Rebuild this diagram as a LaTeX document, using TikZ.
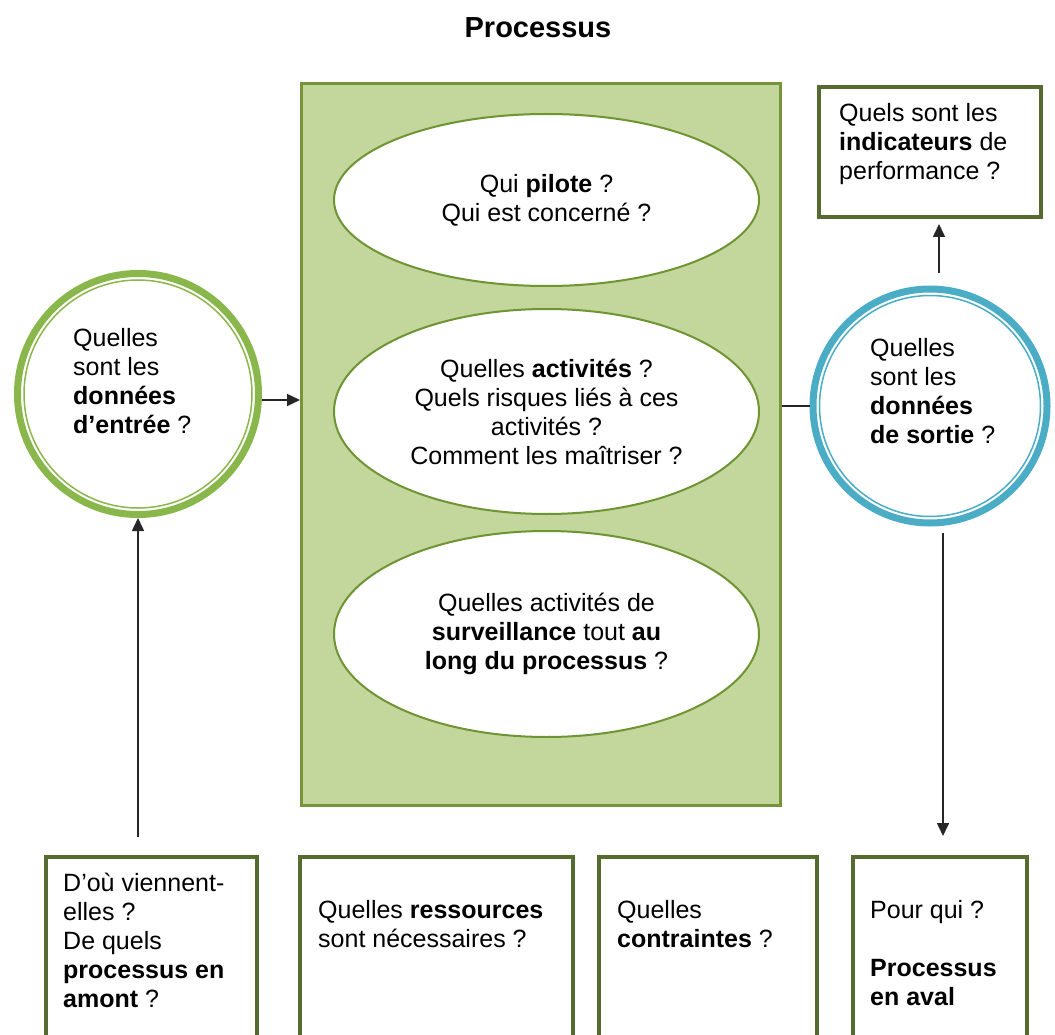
\documentclass[tikz,border=0pt]{standalone}
\usepackage{fontspec}
\setmainfont{Liberation Sans}
\usetikzlibrary{arrows.meta,shapes.geometric}

\definecolor{procfill}{HTML}{C3D69B}
\definecolor{procline}{HTML}{77933C}
\definecolor{ellline}{HTML}{6E9433}
\definecolor{ringgreen}{HTML}{8AB74B}
\definecolor{ringblue}{HTML}{4BACC6}
\definecolor{boxline}{HTML}{566B30}
\definecolor{arrowgray}{HTML}{262626}

\begin{document}
\begin{tikzpicture}[
    x=1pt, y=-1pt,
    inner sep=0pt,
    font=\fontsize{25}{29}\selectfont,
    procbox/.style={draw=procline, fill=procfill, line width=3pt,
      minimum width=479pt, minimum height=722pt},
    question/.style={ellipse, draw=ellline, fill=white, line width=2pt,
      minimum width=425pt, align=center},
    ring/.style={circle, draw=#1, line width=7pt},
    innerring/.style={circle, draw=#1, line width=1.5pt},
    qbox/.style={draw=boxline, fill=white, line width=4pt, anchor=north west},
    qtext/.style={anchor=north west, align=left},
    arrow/.style={draw=arrowgray, line width=1.6pt,
      -{Triangle[length=13pt,width=12pt]}}
  ]
  \useasboundingbox (0,0) rectangle (1055,1035);

  \node (title) at (538,28) {\fontsize{29}{34}\selectfont\bfseries Processus};

  \node (proc) [procbox] at (541,444.5) {};
  \node (pilot) [question, minimum height=172pt] at (546.5,200)
    {Qui \textbf{pilote} ?\\Qui est concerné ?};
  \node (activ) [question, minimum height=205pt] at (546.5,411.5)
    {Quelles \textbf{activités} ?\\Quels risques liés à ces\\activités ?\\Comment les maîtriser ?};
  \node (surv) [question, minimum height=206pt] at (546.5,634)
    {Quelles activités de\\\textbf{surveillance} tout \textbf{au}\\\textbf{long du processus} ?};

  \node (input) [ring=ringgreen, minimum size=241pt] at (138,394) {};
  \node (inputin) [innerring=ringgreen, minimum size=228pt] at (input) {};
  \node (inputtxt) [qtext] at (73,328)
    {Quelles\\sont les\\\textbf{données}\\\textbf{d’entrée} ?};

  \node (output) [ring=ringblue, minimum size=234pt] at (930,406) {};
  \node (outputin) [innerring=ringblue, minimum size=221pt] at (output) {};
  \node (outputtxt) [qtext] at (870,338)
    {Quelles\\sont les\\\textbf{données}\\\textbf{de sortie} ?};

  \node (indic) [qbox, minimum width=222pt, minimum height=130pt] at (817,85) {};
  \node (indictxt) [qtext] at ([shift={(22,18)}]indic.north west)
    {Quels sont les\\\textbf{indicateurs} de\\performance ?};

  \node (upstream) [qbox, minimum width=211pt, minimum height=220pt] at (44,855) {};
  \node (upstreamtxt) [qtext] at ([shift={(19,18)}]upstream.north west)
    {D’où viennent-\\elles ?\\De quels\\\textbf{processus en}\\\textbf{amont} ?};

  \node (resources) [qbox, minimum width=273pt, minimum height=220pt] at (298,855) {};
  \node (resourcestxt) [qtext] at ([shift={(20,45)}]resources.north west)
    {Quelles \textbf{ressources}\\sont nécessaires ?};

  \node (constraints) [qbox, minimum width=218pt, minimum height=220pt] at (597,855) {};
  \node (constraintstxt) [qtext] at ([shift={(20,45)}]constraints.north west)
    {Quelles\\\textbf{contraintes} ?};

  \node (downstream) [qbox, minimum width=174pt, minimum height=220pt] at (851,855) {};
  \node (downstreamtxt) [qtext] at ([shift={(19,45)}]downstream.north west)
    {Pour qui ?\\[29pt]\textbf{Processus}\\\textbf{en aval}};

  \draw[arrow] ([yshift=-6pt]input.east) -- ([yshift=-6pt]input.east -| proc.west);
  \draw[arrow, shorten <=18pt] (upstream.north -| input.south) -- (input.south);
  \draw[draw=arrowgray, line width=1.6pt] (proc.east |- output.west) -- (output.west);
  \draw[arrow, shorten <=13pt, shorten >=5pt] ([xshift=9pt]output.north)
    -- ([xshift=9pt]output.north |- indic.south);
  \draw[arrow, shorten <=6pt, shorten >=19pt] ([xshift=13pt]output.south)
    -- ([xshift=13pt]output.south |- downstream.north);
\end{tikzpicture}
\end{document}
